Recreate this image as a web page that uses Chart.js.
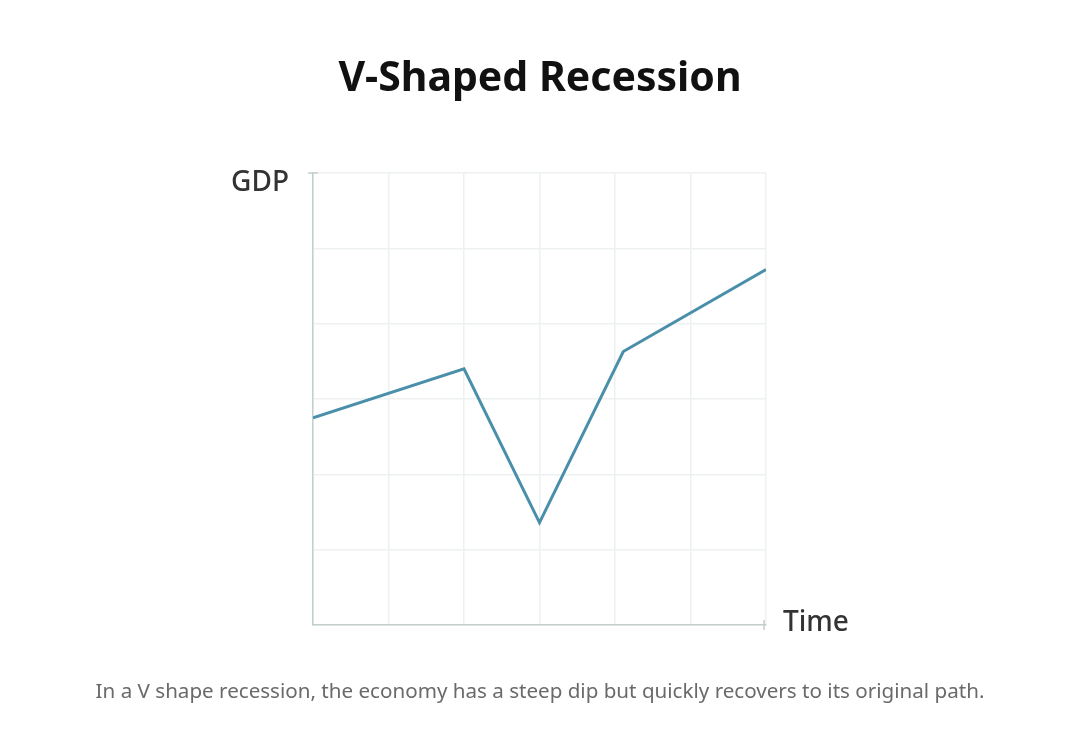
<!DOCTYPE html>
<html>
<head>
<meta charset="utf-8">
<script src="https://cdn.jsdelivr.net/npm/chart.js@4.4.1/dist/chart.umd.min.js"></script>
<style>
  html, body { margin: 0; padding: 0; background: #fff; }
  #wrap { position: relative; width: 1080px; height: 748px; overflow: hidden; }
  #c { position: absolute; left: 0; top: 0; }
  .t { position: absolute; white-space: nowrap; font-family: "Noto Sans", "Open Sans", sans-serif; }
  #title { left: 0; width: 1080px; text-align: center; top: 47px; font-size: 41px; font-weight: 700; color: #111; }
  #gdp { right: 791px; top: 161px; font-size: 28px; font-weight: 500; color: #333; }
  #time { left: 783px; top: 601px; font-size: 28px; font-weight: 500; color: #333; }
  #caption { left: 0; width: 1080px; text-align: center; top: 676px; font-size: 20.6px; color: #6a6a6a; }
</style>
</head>
<body>
<div id="wrap">
  <canvas id="c" width="1080" height="748"></canvas>
  <div class="t" id="title">V-Shaped Recession</div>
  <div class="t" id="gdp">GDP</div>
  <div class="t" id="time">Time</div>
  <div class="t" id="caption">In a V shape recession, the economy has a steep dip but quickly recovers to its original path.</div>
</div>
<script>
const timePoints = [0, 2, 3, 4.11, 6];
const gdpValues = [2.75, 3.40, 1.36, 3.63, 4.72];
const axisMin = 0;
const axisMax = 6;

const axisCaps = {
  id: 'axisCaps',
  afterDraw(chart) {
    const ctx = chart.ctx;
    const x = chart.scales.x, y = chart.scales.y;
    const x0 = x.getPixelForValue(axisMin), x1 = x.getPixelForValue(axisMax);
    const y0 = y.getPixelForValue(axisMin), y1 = y.getPixelForValue(axisMax);
    ctx.save();
    ctx.strokeStyle = '#c3cfcd';
    ctx.lineWidth = 1.5;
    ctx.beginPath();
    ctx.moveTo(x0 - 5, y1); ctx.lineTo(x0 + 5, y1);
    ctx.moveTo(x1 - 2, y0 - 5); ctx.lineTo(x1 - 2, y0 + 5);
    ctx.stroke();
    ctx.restore();
  }
};

new Chart(document.getElementById('c'), {
  type: 'line',
  data: {
    datasets: [{
      data: timePoints.map((t, i) => ({ x: t, y: gdpValues[i] })),
      borderColor: '#4a8fa9',
      borderWidth: 3,
      pointRadius: 0,
      tension: 0,
      fill: false
    }]
  },
  options: {
    responsive: false,
    animation: false,
    layout: { padding: { left: 313, right: 314, top: 173, bottom: 123 } },
    plugins: { legend: { display: false }, tooltip: { enabled: false }, title: { display: false } },
    scales: {
      x: {
        type: 'linear', min: axisMin, max: axisMax,
        ticks: { display: false, stepSize: 1 },
        grid: { color: '#eef1f1', lineWidth: 1.5, drawTicks: false },
        border: { display: true, color: '#c3cfcd', width: 1.5 }
      },
      y: {
        type: 'linear', min: axisMin, max: axisMax,
        ticks: { display: false, stepSize: 1 },
        grid: { color: '#eef1f1', lineWidth: 1.5, drawTicks: false },
        border: { display: true, color: '#c3cfcd', width: 1.5 }
      }
    }
  },
  plugins: [axisCaps]
});
</script>
</body>
</html>
